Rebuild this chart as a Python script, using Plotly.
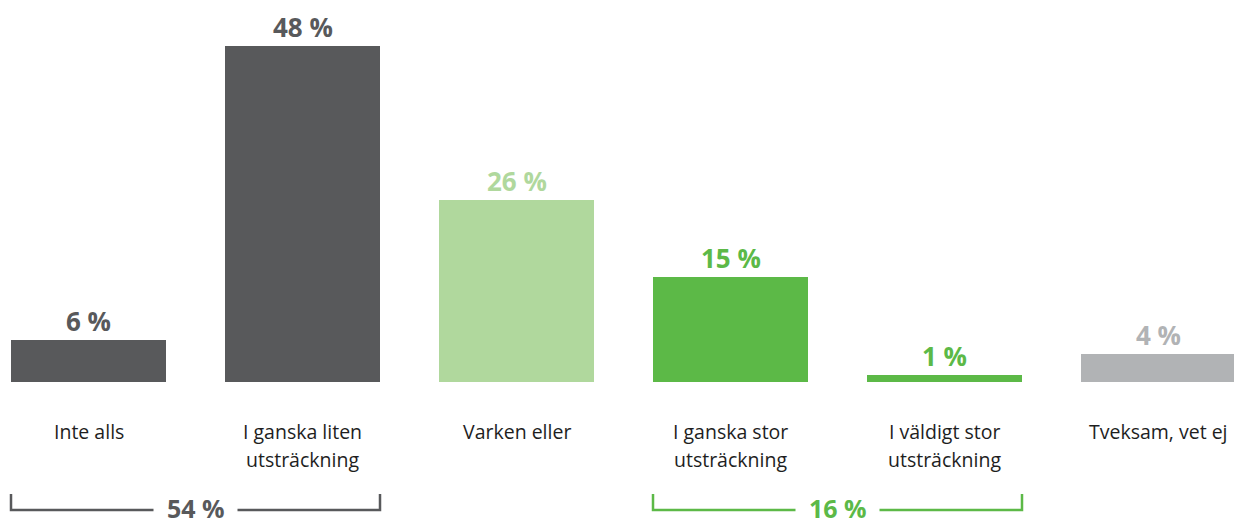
import plotly.graph_objects as go

categories = ["Inte alls", "I ganska liten<br>utsträckning", "Varken eller",
              "I ganska stor<br>utsträckning", "I väldigt stor<br>utsträckning", "Tveksam, vet ej"]
values = [6, 48, 26, 15, 1, 4]
value_labels = ["6 %", "48 %", "26 %", "15 %", "1 %", "4 %"]
bar_colors = ["#58595B", "#58595B", "#B0D89D", "#5CB947", "#5CB947", "#B1B3B5"]
groups = [(0, 1, "54 %", "#58595B"), (3, 4, "16 %", "#5CB947")]

W, H = 1234, 520
step = 214.0
x0 = -88.5 / step
bw = 155 / step
base = 382
font = "Open Sans"

xs = list(range(len(categories)))
fig = go.Figure(go.Bar(x=xs, y=values, marker=dict(color=bar_colors, line=dict(width=0)),
                       width=bw, hoverinfo="skip"))

ann = []
for i, (v, lab, c) in enumerate(zip(values, value_labels, bar_colors)):
    ann.append(dict(x=i, y=v, text=f"<b>{lab}</b>", showarrow=False, yanchor="bottom",
                    yshift=-1, font=dict(family=font, size=26, color=c)))
    for k, line in enumerate(categories[i].split("<br>")):
        ann.append(dict(x=i, y=-7 - 4 * k, text=line, showarrow=False, yanchor="middle",
                        font=dict(family=font, size=19.5, color="#1E1E1E")))

shapes = []
gap = 42 / step
for a, b, lab, c in groups:
    xl, xr = a - bw / 2, b + bw / 2
    xm = (xl + xr) / 2
    yb, yt = -128 / 7, -112 / 7
    shapes.append(dict(type="path", path=f"M {xl} {yt} L {xl} {yb} L {xm - gap} {yb}",
                       line=dict(color=c, width=2.5), layer="above"))
    shapes.append(dict(type="path", path=f"M {xm + gap} {yb} L {xr} {yb} L {xr} {yt}",
                       line=dict(color=c, width=2.5), layer="above"))
    ann.append(dict(x=xm, y=yb, text=f"<b>{lab}</b>", showarrow=False,
                    yanchor="middle", yshift=2, borderpad=0,
                    font=dict(family=font, size=25, color=c)))

fig.update_layout(
    width=W, height=H, margin=dict(l=0, r=0, t=0, b=0),
    paper_bgcolor="white", plot_bgcolor="white", showlegend=False,
    xaxis=dict(range=[x0, W / step + x0], visible=False, fixedrange=True),
    yaxis=dict(range=[-(H - base) / 7, base / 7], visible=False, fixedrange=True),
    annotations=ann, shapes=shapes,
)
post = ("document.body.style.margin='0';document.body.style.overflow='hidden';"
        "var gd=document.getElementById('{plot_id}');"
        "Plotly.relayout(gd,{width:1234,height:520});")
fig.write_html("out.html", post_script=post, config={"displayModeBar": False})
